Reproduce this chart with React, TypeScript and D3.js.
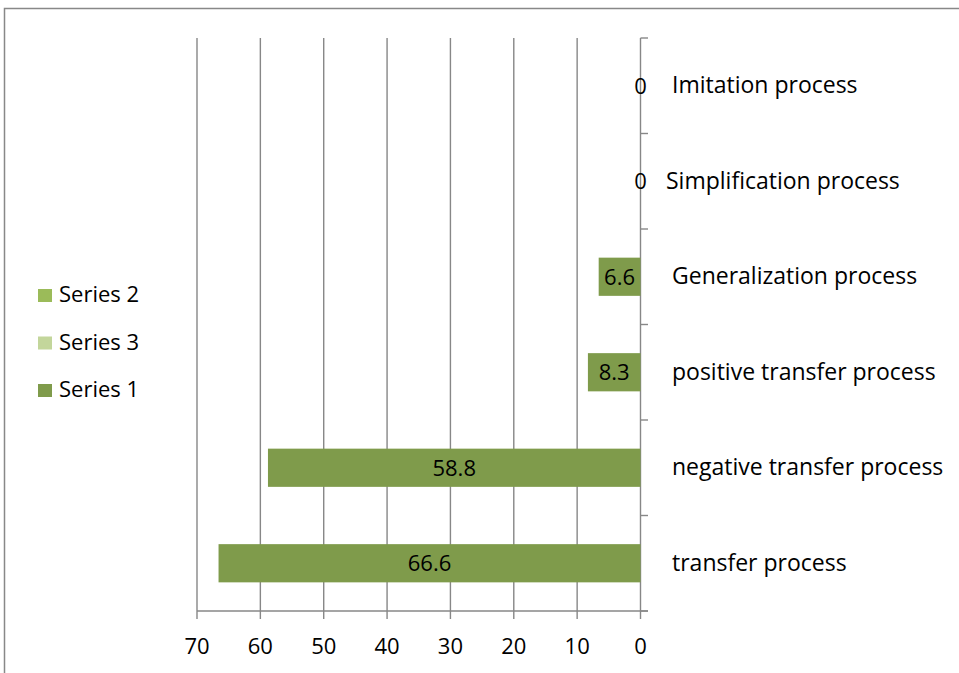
import React from "react";
import * as d3 from "d3";

const categories = [
  "transfer process",
  "negative transfer process",
  "positive transfer process",
  "Generalization process",
  "Simplification process",
  "Imitation process",
];
const series1 = [66.6, 58.8, 8.3, 6.6, 0, 0];
const xTicks = [0, 10, 20, 30, 40, 50, 60, 70];
const legendNames = ["Series 2", "Series 3", "Series 1"];
const legendColors = ["#9bbb59", "#c3d69b", "#7f9b4b"];

const FONT = "'Open Sans', sans-serif";
const FS = 22;
const CAT_FS = 23;
const W = 959;
const H = 673;

export default function App() {
  const x = d3.scaleLinear().domain([0, 70]).range([640.5, 197]);
  const order = categories.slice().reverse();
  const y = d3.scaleBand<string>().domain(order).range([38, 611]);
  const bw = y.bandwidth();
  const barH = bw * 0.4;
  const gridColor = "#878787";
  const labelOffsets: Record<string, number> = { "Simplification process": -6 };
  const textStyle = { fontVariantLigatures: "none" as const };

  return (
    <svg width={W} height={H} style={{ position: "absolute", left: 0, top: 0, background: "#fff" }}>
      <rect x={4.5} y={8.5} width={W + 10} height={H + 10} fill="#fff" stroke="#888" strokeWidth={1.5} />
      {xTicks.map((t) => (
        <g key={t}>
          {t !== 0 && (
            <line x1={x(t)} x2={x(t)} y1={38} y2={611} stroke={gridColor} strokeWidth={1.4} />
          )}
          <line x1={x(t)} x2={x(t)} y1={611} y2={619} stroke={gridColor} strokeWidth={1.4} />
          <text x={x(t)} y={654} textAnchor="middle" fontFamily={FONT} fontSize={FS} fill="#000" style={textStyle}>
            {t}
          </text>
        </g>
      ))}
      <line x1={197} x2={648} y1={611} y2={611} stroke={gridColor} strokeWidth={1.4} />
      <line x1={x(0)} x2={x(0)} y1={38} y2={611} stroke={gridColor} strokeWidth={1.4} />
      {d3.range(0, categories.length + 1).map((i) => {
        const yy = 38 + i * bw;
        return <line key={i} x1={x(0)} x2={648} y1={yy} y2={yy} stroke={gridColor} strokeWidth={1.4} />;
      })}
      {categories.map((c, i) => {
        const v = series1[i];
        const cy = (y(c) as number) + bw / 2;
        return (
          <g key={c}>
            {v > 0 && (
              <rect x={x(v)} y={cy - barH / 2} width={x(0) - x(v)} height={barH} fill="#7f9b4b" />
            )}
            <text
              x={(x(v) + x(0)) / 2}
              y={cy + 8}
              textAnchor="middle"
              fontFamily={FONT}
              fontSize={FS}
              fill="#000"
              style={textStyle}
            >
              {v}
            </text>
            <text x={672 + (labelOffsets[c] || 0)} y={cy + 7.5} fontFamily={FONT} fontSize={CAT_FS} fill="#000" style={textStyle}>
              {c}
            </text>
          </g>
        );
      })}
      {legendNames.map((n, i) => (
        <g key={n}>
          <rect x={38} y={289 + i * 47.5} width={14} height={13} fill={legendColors[i]} />
          <text x={59} y={302 + i * 47.5} fontFamily={FONT} fontSize={FS} fill="#000" style={textStyle}>
            {n}
          </text>
        </g>
      ))}
    </svg>
  );
}
